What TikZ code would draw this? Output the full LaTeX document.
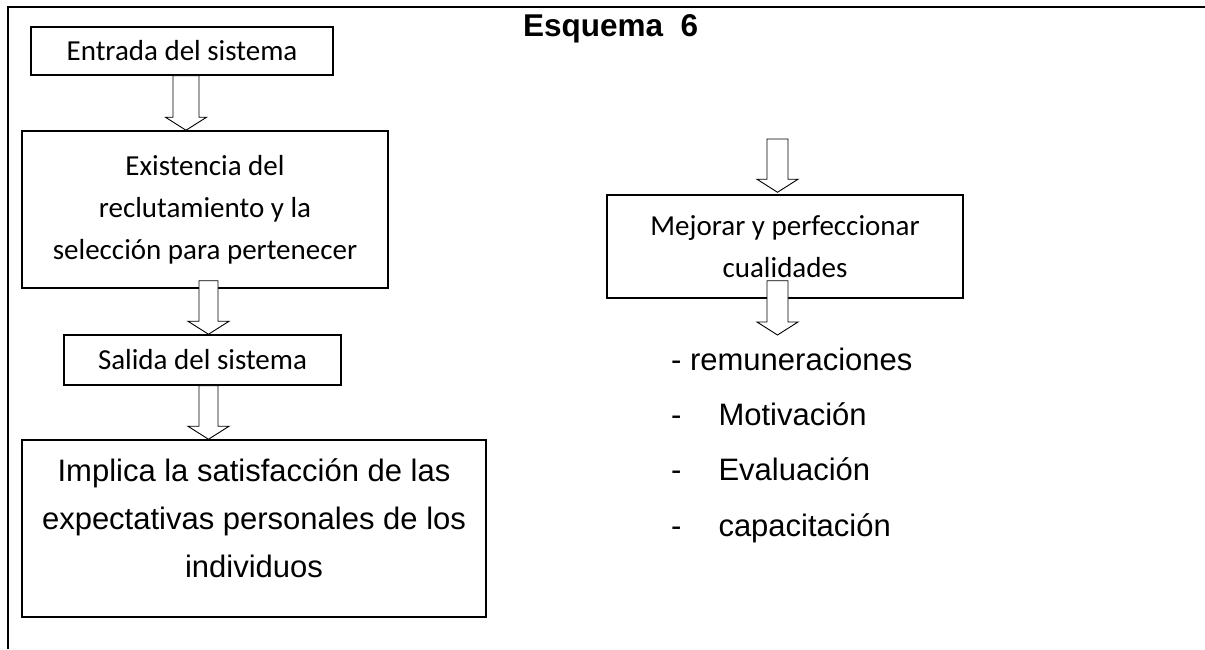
\documentclass[tikz,border=0pt]{standalone}
\usepackage{fontspec}
\setmainfont{Carlito}
\newfontfamily\arialfont{Liberation Sans}
\usetikzlibrary{calc,positioning}
\tikzset{
  caja/.style={rectangle, draw, line width=1.5pt, align=center, inner sep=0pt, font=\fontsize{29}{42}\selectfont},
  textoarial/.style={align=center, inner sep=0pt, font=\arialfont\fontsize{31}{48}\selectfont},
  lista/.style={anchor=base west, inner sep=0pt, font=\arialfont\fontsize{31}{37}\selectfont},
  titulo/.style={anchor=base west, inner sep=0pt, font=\arialfont\bfseries\fontsize{31.5}{36}\selectfont}
}
% flecha hueca: medio ancho del tallo, origen, punta
\newcommand{\flechahueca}[3]{%
  \draw[line width=0.9pt, fill=white] let \p1=#2, \p2=#3 in
    (\x2-#1,\y1) -- (\x2-#1,\y2+13pt) -- (\x2-20.5pt,\y2+13pt) -- (\x2,\y2)
    -- (\x2+20.5pt,\y2+13pt) -- (\x2+#1,\y2+13pt) -- (\x2+#1,\y1) -- cycle;}

\begin{document}
\begin{tikzpicture}[x=1pt,y=-1pt]
\useasboundingbox (0,0) rectangle (1205,649);

% marco
\draw[line width=2pt] (8,649) -- (8,7) -- (1205,7);

% titulo
\node[titulo] (esquema) at (523,36) {Esquema\ \ 6};

% columna izquierda
\node[caja, minimum width=302pt, minimum height=48pt] (entrada) at (182,51) {Entrada del sistema};
\node[caja, minimum width=366pt, minimum height=157pt] (existencia) at (205,209.5) {Existencia del\\reclutamiento y la\\selección para pertenecer};
\node[caja, minimum width=277pt, minimum height=50pt] (salida) at (202.5,360) {Salida del sistema};
\node[caja, minimum width=464pt, minimum height=177pt] (implica) at (254,528.5) {};
\node[textoarial] (implicatxt) at ([yshift=10pt]implica.center) {Implica la satisfacción de las\\expectativas personales de los\\individuos};

% columna derecha
\coordinate (mejorarin) at (777.5,139);
\node[caja, minimum width=356pt, minimum height=103pt] (mejorar) at (785,246.5) {Mejorar y perfeccionar\\cualidades};
\coordinate (listatop) at (777.5,335);
\node[lista] (remun) at (671,370) {- remuneraciones};
\node[lista] (motiv) at (671,425) {-\hskip 37pt Motivación};
\node[lista] (evalu) at (671,480) {-\hskip 37pt Evaluación};
\node[lista] (capac) at (671,536) {-\hskip 37pt capacitación};

% flechas
\flechahueca{13pt}{(entrada.south)}{([xshift=-19pt]existencia.north)}
\flechahueca{9.5pt}{([yshift=8pt]existencia.south)}{([xshift=6pt]salida.north)}
\flechahueca{9.5pt}{(salida.south)}{([xshift=-45.5pt]implica.north)}
\flechahueca{10.5pt}{(mejorarin)}{([xshift=-7.5pt,yshift=2pt]mejorar.north)}
\flechahueca{10.5pt}{([yshift=18pt]mejorar.south)}{(listatop)}
\end{tikzpicture}
\end{document}
